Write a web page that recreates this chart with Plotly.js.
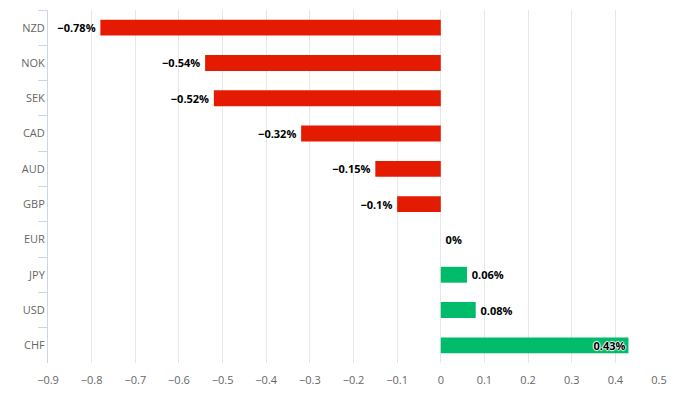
<!DOCTYPE html>
<html>
<head>
<meta charset="utf-8">
<script src="https://cdn.plot.ly/plotly-3.0.1.min.js"></script>
<style>html,body{margin:0;padding:0;background:#fff;}#chart{width:687px;height:407px;}</style>
</head>
<body>
<div id="chart"></div>
<script>
var currencies = ["NZD", "NOK", "SEK", "CAD", "AUD", "GBP", "EUR", "JPY", "USD", "CHF"];
var changes = [-0.78, -0.54, -0.52, -0.32, -0.15, -0.1, 0, 0.06, 0.08, 0.43];
var xTicks = [-0.9, -0.8, -0.7, -0.6, -0.5, -0.4, -0.3, -0.2, -0.1, 0, 0.1, 0.2, 0.3, 0.4, 0.5];

var RED = "#e41b00", GREEN = "#00bb6a";
var colors = changes.map(function (v) { return v < 0 ? RED : (v > 0 ? GREEN : "rgba(0,0,0,0)"); });
var labels = changes.map(function (v) {
  var s = (v < 0 ? "\u2212" + Math.abs(v) : String(v)) + "%";
  if (v > 0.3) return s;
  return v < 0 ? s + "\u2009" : "\u2009" + s;
});
var positions = changes.map(function (v) { return v > 0.3 ? "inside" : "outside"; });

var trace = {
  type: "bar",
  orientation: "h",
  x: changes,
  y: currencies,
  marker: { color: colors },
  width: 0.45,
  text: labels,
  textposition: positions,
  insidetextanchor: "end",
  constraintext: "none",
  cliponaxis: false,
  textfont: {
    family: "Open Sans, DejaVu Sans, sans-serif",
    size: 11,
    color: "#000",
    weight: 700,
    shadow: "1px 0 1px #fff, -1px 0 1px #fff, 0 1px 1px #fff, 0 -1px 1px #fff"
  },
  hoverinfo: "none"
};

var layout = {
  width: 687,
  height: 407,
  margin: { l: 48, r: 28, t: 10, b: 44 },
  paper_bgcolor: "#fff",
  plot_bgcolor: "#fff",
  showlegend: false,
  font: { family: "Open Sans, DejaVu Sans, sans-serif", size: 11, color: "#666" },
  xaxis: {
    range: [-0.9, 0.5],
    tickvals: xTicks,
    showgrid: true,
    gridcolor: "#e6e6e6",
    gridwidth: 1,
    zeroline: false,
    showline: false,
    ticks: "outside",
    ticklen: 7,
    tickcolor: "rgba(0,0,0,0)",
    tickfont: { size: 11, color: "#666" },
    fixedrange: true
  },
  yaxis: {
    type: "category",
    categoryorder: "array",
    categoryarray: currencies,
    autorange: "reversed",
    showline: true,
    linecolor: "#ccd6eb",
    linewidth: 1,
    ticks: "outside",
    tickson: "boundaries",
    ticklen: 9,
    tickcolor: "#ccd6eb",
    showgrid: false,
    tickfont: { size: 11, color: "#666" },
    fixedrange: true
  }
};

Plotly.newPlot("chart", [trace], layout, { displayModeBar: false, staticPlot: true });
</script>
</body>
</html>
